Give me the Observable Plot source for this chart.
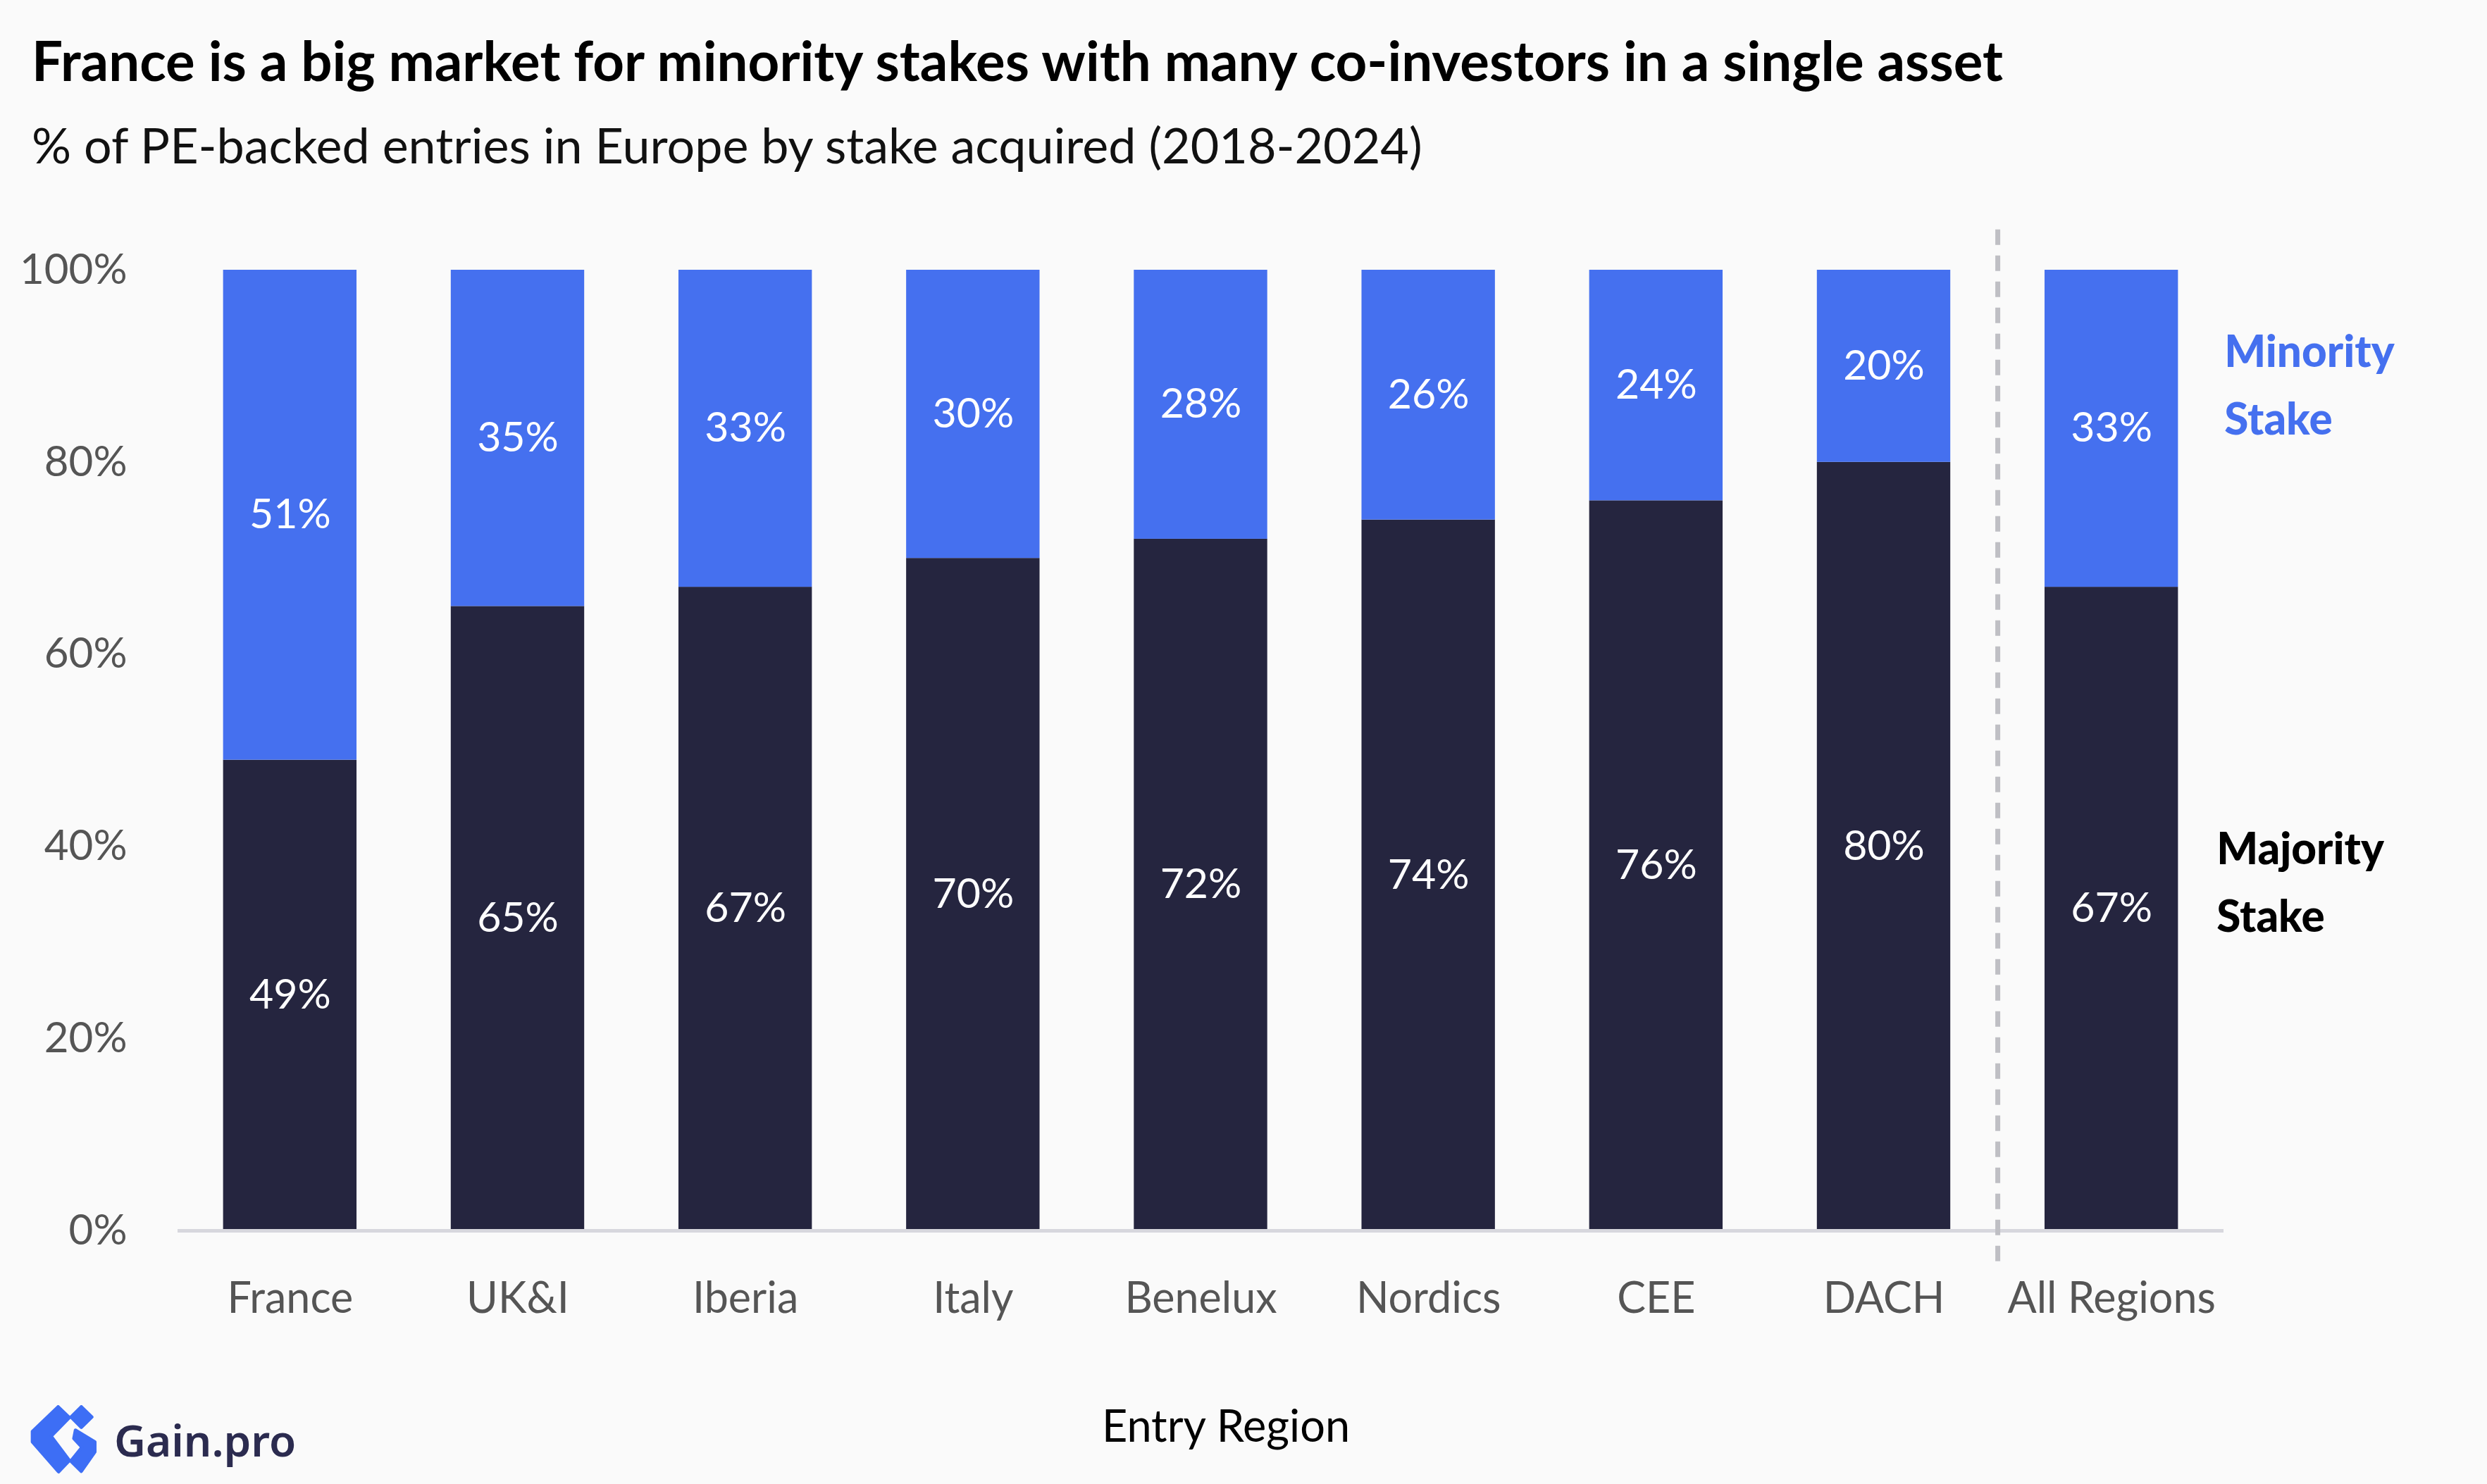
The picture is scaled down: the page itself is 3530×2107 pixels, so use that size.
<!DOCTYPE html>
<html>
<head>
<meta charset="utf-8">
<script src="https://cdn.jsdelivr.net/npm/d3@7"></script>
<script src="https://cdn.jsdelivr.net/npm/@observablehq/plot@0.6"></script>
<style>
  html, body { margin: 0; padding: 0; background: #fafafa; }
  #wrap { position: relative; width: 3530px; height: 2107px; background: #fafafa; font-family: Lato, "Noto Sans", sans-serif; overflow: hidden; }
  .abs { position: absolute; line-height: 1; white-space: nowrap; }
</style>
</head>
<body>
<div id="wrap">
  <div id="title" class="abs" style="left:45px; top:46px; font-size:78px; font-weight:700; color:#000;">France is a big market for minority stakes with many co-investors in a single asset</div>
  <div id="subtitle" class="abs" style="left:45px; top:170px; font-size:70px; font-weight:400; color:#111;">% of PE-backed entries in Europe by stake acquired (2018-2024)</div>
  <div id="chart" class="abs" style="left:0; top:260px;"></div>
  <div id="xlabel" class="abs" style="left:1740px; top:1991px; transform:translateX(-50%); font-size:63px; color:#000;">Entry Region</div>
  <div id="logo" class="abs" style="left:43px; top:1995px; display:flex; align-items:center;">
    <svg width="97" height="98" viewBox="0 0 290 295">
      <g fill="#3d6ef5" stroke="#3d6ef5" stroke-width="14" stroke-linejoin="round">
        <polygon points="118,7 166,53 88,133 166,237 120,285 8,157 8,113"/>
        <polygon points="217,7 262,51 217,95 173,51"/>
        <polygon points="192,107 275,157 275,200 217,283 172,239 220,180 185,143"/>
      </g>
    </svg>
    <span style="margin-left:22px; font-family:'Noto Sans', sans-serif; font-size:62px; font-weight:600; color:#2b2b4f;">Gain.pro</span>
  </div>
</div>
<script>
// ---- data ----
const regions  = ["France", "UK&I", "Iberia", "Italy", "Benelux", "Nordics", "CEE", "DACH", "All Regions"];
const majority = [49, 65, 67, 70, 72, 74, 76, 80, 67];
const minority = [51, 35, 33, 30, 28, 26, 24, 20, 33];
const stakes   = ["Majority", "Minority"];
const yTicks   = [0, 20, 40, 60, 80, 100];

// ---- table ----
const rows = regions.flatMap((r, i) => [
  {region: r, stake: "Majority", value: majority[i], y1: 0, y2: majority[i]},
  {region: r, stake: "Minority", value: minority[i], y1: majority[i], y2: majority[i] + minority[i]}
]);
const allRow = rows.filter(d => d.region === "All Regions");

const dark = "#25253f";
const blue = "#4570ef";

const W = 3530, ML = 252, MR = 374;
const pInner = 0.414, pOuter = 0.2;
const step = (W - ML - MR) / (regions.length - pInner + 2 * pOuter);

const chart = Plot.plot({
  width: W,
  height: 1637,
  marginTop: 123,
  marginLeft: ML,
  marginRight: MR,
  marginBottom: 150,
  style: {background: "transparent", fontFamily: "Lato, 'Noto Sans', sans-serif", overflow: "visible"},
  x: {domain: regions, paddingInner: pInner, paddingOuter: pOuter, round: false, label: null},
  y: {domain: [0, 100], label: null},
  color: {domain: stakes, range: [dark, blue]},
  marks: [
    Plot.barY(rows, {x: "region", y1: "y1", y2: "y2", fill: "stake"}),
    Plot.ruleY([0], {stroke: "#d7d7dd", strokeWidth: 5}),
    Plot.ruleX(["DACH"], {x: d => d, dx: step / 2, y1: -3.2, y2: 105, stroke: "#bfbfc4", strokeWidth: 7, strokeDasharray: "22,15", clip: false}),
    Plot.text(rows, {x: "region", y: d => (d.y1 + d.y2) / 2, text: d => d.value + "%", fill: "white", fontSize: 59}),
    Plot.text(allRow.filter(d => d.stake === "Minority"), {
      x: "region", y: d => (d.y1 + d.y2) / 2, text: () => "Minority\nStake",
      dx: 160, dy: -70, textAnchor: "start", lineAnchor: "middle", lineHeight: 1.55,
      fill: blue, fontSize: 62, fontWeight: 900
    }),
    Plot.text(allRow.filter(d => d.stake === "Majority"), {
      x: "region", y: d => (d.y1 + d.y2) / 2, text: () => "Majority\nStake",
      dx: 149, dy: -46, textAnchor: "start", lineAnchor: "middle", lineHeight: 1.55,
      fill: "#000", fontSize: 62, fontWeight: 900
    }),
    Plot.axisY({ticks: yTicks, tickFormat: d => d + "%", tickSize: 0, tickPadding: 72, fontSize: 60, color: "#555", label: null}),
    Plot.axisX({tickSize: 0, tickPadding: 73, fontSize: 61, color: "#555", label: null})
  ]
});
document.getElementById("chart").appendChild(chart);
</script>
</body>
</html>
